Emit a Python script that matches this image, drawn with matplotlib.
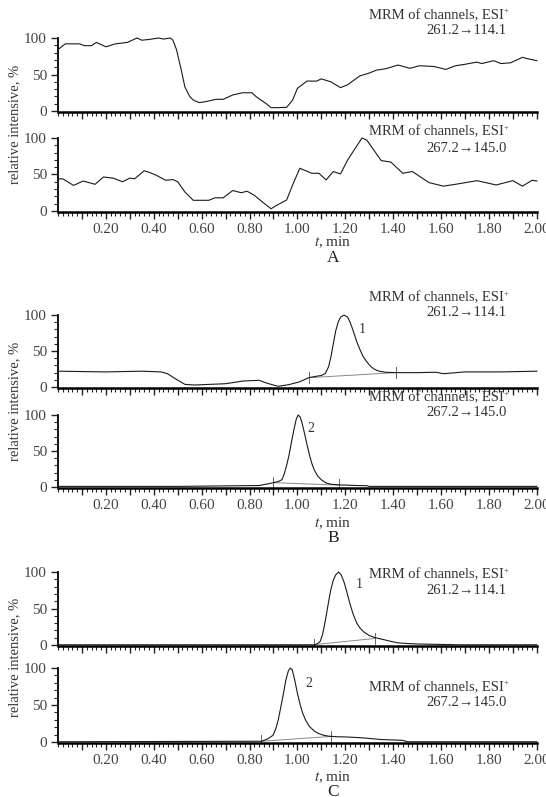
import numpy as np
import matplotlib
matplotlib.use('Agg')
import matplotlib.pyplot as plt

plt.rcParams['font.family'] = ['Liberation Serif', 'DejaVu Serif']
plt.rcParams['mathtext.fontset'] = 'stix'

# ---- A: blank matrix ----
a1_t = [0.00, 0.03, 0.09, 0.11, 0.14, 0.16, 0.20, 0.24, 0.29, 0.33, 0.35, 0.38, 0.42, 0.44, 0.47,
        0.48, 0.495, 0.515, 0.53, 0.55, 0.565, 0.59, 0.62, 0.66, 0.69, 0.73, 0.77, 0.81, 0.83,
        0.87, 0.89, 0.92, 0.955, 0.98, 1.00, 1.04, 1.08, 1.10, 1.14, 1.18, 1.21, 1.26, 1.30, 1.33,
        1.37, 1.42, 1.47, 1.51, 1.57, 1.62, 1.66, 1.70, 1.75, 1.77, 1.82, 1.85, 1.89, 1.94, 1.97, 2.00]
a1_y = [84, 92, 92, 89.5, 89.5, 94, 88, 92, 94, 100, 97, 98, 100, 98.6, 100,
        97, 84, 56, 33, 20, 15, 11.5, 13, 16, 16, 22, 25, 25, 19,
        10, 4.6, 4.6, 5, 15, 31, 41, 41, 44, 40, 32, 36, 48, 52, 56,
        58, 63, 58.5, 62, 61, 57, 62, 64, 67, 65, 69, 65, 66, 73.5, 71, 69]

a2_t = [0.00, 0.02, 0.065, 0.105, 0.155, 0.19, 0.23, 0.27, 0.30, 0.32, 0.36, 0.38, 0.41, 0.45,
        0.48, 0.50, 0.53, 0.565, 0.63, 0.655, 0.69, 0.73, 0.765, 0.79, 0.82, 0.855, 0.89, 0.91,
        0.955, 0.98, 1.01, 1.06, 1.09, 1.12, 1.15, 1.18, 1.21, 1.27, 1.29, 1.35, 1.39, 1.44,
        1.48, 1.55, 1.61, 1.66, 1.75, 1.83, 1.90, 1.94, 1.98, 2.00]
a2_y = [44, 44, 35, 41, 36.5, 46.5, 45, 40, 45, 44, 55, 53, 49, 42,
        43, 40, 26, 14.6, 14.6, 18, 18, 28, 25, 27, 21.5, 12, 3, 7,
        15, 35.6, 58.5, 51.6, 51.6, 42.5, 54, 50.7, 70, 100, 97, 69, 67, 51.6,
        54, 38.8, 34, 36.5, 41.5, 35.6, 41.5, 34, 42, 41]

# ---- B: standard ----
b1_t = [0.00, 0.20, 0.35, 0.43, 0.457, 0.49, 0.53, 0.57, 0.70, 0.775, 0.84, 0.87, 0.905, 0.92,
        0.964, 1.007, 1.048, 1.08, 1.10, 1.116, 1.13, 1.14, 1.15, 1.16, 1.17, 1.18, 1.195, 1.21,
        1.22, 1.23, 1.24, 1.25, 1.26, 1.275, 1.29, 1.305, 1.32, 1.34, 1.37, 1.413, 1.50, 1.58,
        1.61, 1.70, 1.85, 2.00]
b1_y = [22, 21, 22, 21, 18.6, 11.6, 3.7, 2.8, 4.6, 8.4, 9.3, 5.6, 2.3, 1,
        3.3, 7, 13, 15, 16, 18.6, 28, 42, 60, 78, 90, 97, 100, 97,
        90, 81, 71, 61, 53, 42, 35, 29, 25, 22, 20.5, 20, 20, 20.5,
        18.5, 21, 21, 22]

b2_t = [0.00, 0.50, 0.84, 0.88, 0.90, 0.92, 0.935, 0.945, 0.955, 0.965, 0.975, 0.985, 0.995,
        1.003, 1.012, 1.02, 1.03, 1.04, 1.05, 1.06, 1.07, 1.085, 1.10, 1.12, 1.14, 1.18, 1.25,
        1.29, 1.30, 2.00]
b2_y = [0.8, 0.8, 2, 4.5, 6, 7.5, 10, 18, 30, 44, 62, 79, 94,
        100, 97, 88, 74, 59, 45, 33, 24, 15, 10, 5.5, 3.8, 2.8, 2,
        1.8, 0.8, 0.8]

# ---- C: sample ----
c1_t = [0.00, 1.07, 1.085, 1.095, 1.105, 1.117, 1.128, 1.139, 1.15, 1.16, 1.172, 1.183, 1.195,
        1.207, 1.219, 1.233, 1.248, 1.262, 1.277, 1.30, 1.32, 1.345, 1.365, 1.39, 1.42, 1.46,
        1.50, 1.56, 1.65, 1.66, 2.00]
c1_y = [0.3, 0.3, 2, 5, 14, 34, 55, 75, 89, 96, 100, 96, 86,
        72, 57, 42, 30, 23, 18, 13, 10.5, 8.5, 7, 5, 3, 2,
        1.4, 1, 0.5, 0.3, 0.3]

c2_t = [0.00, 0.85, 0.875, 0.898, 0.91, 0.92, 0.93, 0.942, 0.952, 0.962, 0.97, 0.978, 0.988,
        1.00, 1.011, 1.022, 1.035, 1.05, 1.07, 1.088, 1.11, 1.131, 1.17, 1.204, 1.24, 1.277,
        1.31, 1.35, 1.40, 1.44, 1.46, 2.00]
c2_y = [0.3, 1, 4, 9, 18, 30, 46, 66, 84, 96, 100, 98, 85,
        66, 51, 39, 29, 21, 15, 11.5, 9, 7.8, 7, 6.8, 6.2, 5.5,
        4.5, 3.3, 2.7, 2.2, 0.3, 0.3]

# integration baselines (start, end) per peak
b1_base_t, b1_base_y = [1.048, 1.413], [13, 20]
b2_base_t, b2_base_y = [0.90, 1.175], [6, 2.5]
c1_base_t, c1_base_y = [1.07, 1.325], [0.5, 9]
c2_base_t, c2_base_y = [0.85, 1.14], [1.0, 7.5]

channels = ['261.2\u2192114.1', '267.2\u2192145.0']
xticks = [round(0.1 * i, 1) for i in range(1, 21)]

fig = plt.figure(figsize=(5.46, 7.97), dpi=100)

# axes boxes in figure fraction: left, bottom, width, height
boxes = {
    'A1': [0.1062, 0.8598, 0.877, 0.0925],
    'A2': [0.1062, 0.7344, 0.877, 0.0925],
    'B1': [0.1062, 0.5135, 0.877, 0.0912],
    'B2': [0.1062, 0.3881, 0.877, 0.0912],
    'C1': [0.1062, 0.1898, 0.877, 0.0925],
    'C2': [0.1062, 0.0681, 0.877, 0.0937],
}

grey = '#444444'


def makePanel(key, t, y, channel, txt_y, show_labels, base=None, peak=None):
    ax = fig.add_axes(boxes[key])
    ax.plot(t, y, color='#1a1a1a', lw=0.8, clip_on=False, zorder=3)
    if base is not None:
        bt, by = base
        ax.plot(bt, by, color='#888888', lw=0.7, zorder=2)
        for xx, yy in zip(bt, by):
            ax.plot([xx, xx], [yy - 8, yy + 8], color='#666666', lw=0.7, zorder=2)
    if peak is not None:
        ax.text(peak[0], peak[1], peak[2], fontsize=10, color='#333333', ha='center', va='center')
    ax.set_xlim(0, 2.0)
    ax.set_ylim(-1, 100)
    for s in ['top', 'right']:
        ax.spines[s].set_visible(False)
    ax.spines['bottom'].set_linewidth(1.8)
    ax.spines['left'].set_linewidth(1.3)
    ax.spines['left'].set_bounds(0, 100)
    ax.set_xticks(xticks)
    if show_labels:
        ax.set_xticklabels(['%.2f' % v if i % 2 == 1 else '' for i, v in enumerate(xticks)])
    else:
        ax.set_xticklabels([])
    ax.set_xticks(np.arange(0, 2.001, 0.02), minor=True)
    ax.set_yticks([0, 50, 100])
    ax.set_yticks(np.arange(0, 101, 10), minor=True)
    ax.tick_params(which='major', length=5, width=1.0, direction='out', pad=3,
                   labelsize=11, labelcolor=grey, color='#222222')
    ax.tick_params(which='minor', length=3, width=0.8, direction='out', color='#222222')
    ax.text(1.862, txt_y[0], 'MRM of channels, ESI', ha='right', va='center',
            fontsize=10.5, color='#333333', clip_on=False)
    ax.text(1.863, txt_y[0] + 5, '+', ha='left', va='center',
            fontsize=6, color='#333333', clip_on=False)
    ax.text(1.875, txt_y[1], channel, ha='right', va='center', fontsize=10.5,
            color='#333333', clip_on=False)
    return ax


makePanel('A1', a1_t, a1_y, channels[0], (131, 110), False)
makePanel('A2', a2_t, a2_y, channels[1], (108, 86), True)
makePanel('B1', b1_t, b1_y, channels[0], (124, 103), False, (b1_base_t, b1_base_y), (1.27, 80, '1'))
makePanel('B2', b2_t, b2_y, channels[1], (124, 103), True, (b2_base_t, b2_base_y), (1.055, 81, '2'))
makePanel('C1', c1_t, c1_y, channels[0], (96, 75), False, (c1_base_t, c1_base_y), (1.26, 83, '1'))
makePanel('C2', c2_t, c2_y, channels[1], (74, 53), True, (c2_base_t, c2_base_y), (1.048, 79, '2'))

# shared labels
for yc, yx, yl, letter in [(0.8438, 0.6964, 0.6763, 'A'),
                           (0.4969, 0.3438, 0.3250, 'B'),
                           (0.1757, 0.0251, 0.0060, 'C')]:
    fig.text(0.0275, yc, 'relative intensive, %', rotation=90, ha='center', va='center',
             fontsize=10.5, color='#333333')
    fig.text(0.61, yx, r'$t$, min', ha='center', va='center', fontsize=11, color='#333333')
    fig.text(0.61, yl, letter, ha='center', va='center', fontsize=12.5, color='#222222')

fig.savefig('out.png', dpi=100)
